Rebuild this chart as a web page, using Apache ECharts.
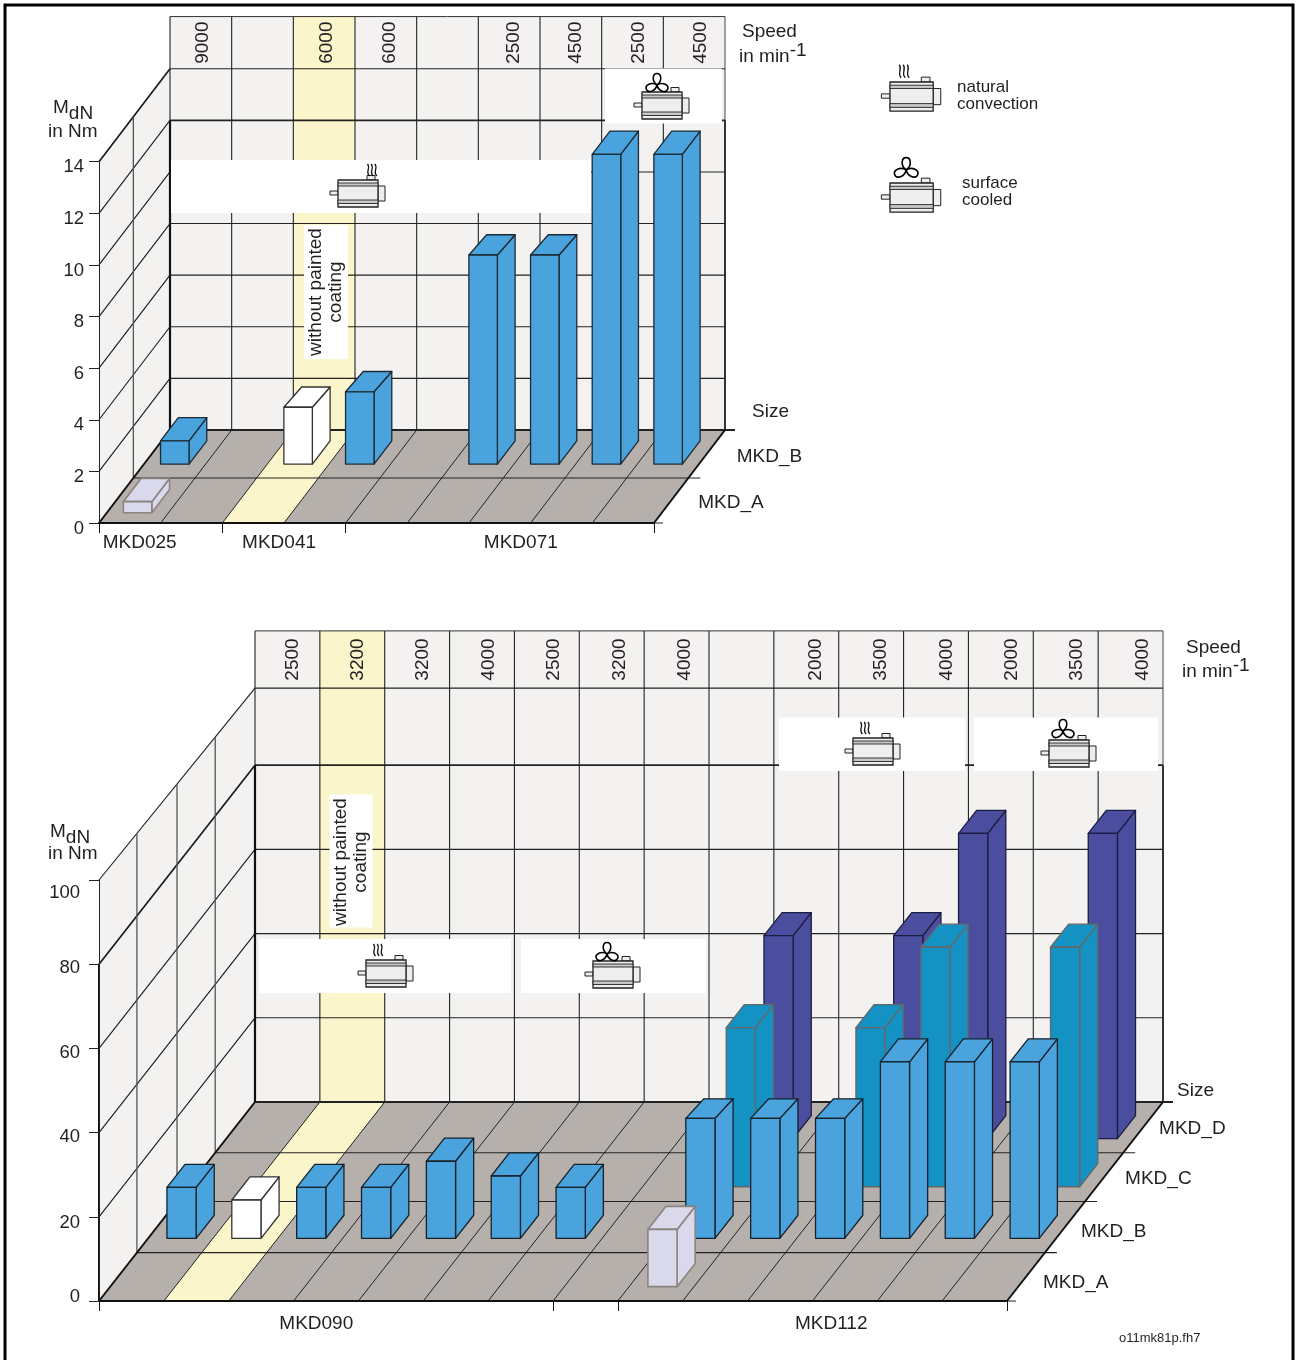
<!DOCTYPE html>
<html><head><meta charset="utf-8">
<style>html,body{margin:0;padding:0;background:#fff}#c{width:1296px;height:1360px}</style>
<script src="https://cdn.jsdelivr.net/npm/echarts@6/dist/echarts.min.js"></script></head>
<body><div id="c"></div>
<script>
// ---------- data ----------
const topSpeeds = ['9000','','6000','6000','','2500','4500','2500','4500'];
const topGroups = ['MKD025','MKD041','MKD071'];
const topRows = ['MKD_A','MKD_B'];
const topA = [0.43,null,null,null,null,null,null,null,null];
const topB = [0.9,null,2.2,2.8,null,8.1,8.1,12,12];

const lowSpeeds = ['2500','3200','3200','4000','2500','3200','4000','','2000','3500','4000','2000','3500','4000'];
const lowGroups = ['MKD090','MKD112'];
const lowRows = ['MKD_A','MKD_B','MKD_C','MKD_D'];
const lowA = [null,null,null,null,null,null,null,null,13.6,null,null,null,null,null];
const lowB = [12.1,9.1,12.1,12.1,18.3,14.8,12.1,null,28.5,28.5,28.5,41.9,41.9,41.9];
const lowC = [null,null,null,null,null,null,null,null,37.8,null,37.8,56.9,null,56.9];
const lowD = [null,null,null,null,null,null,null,null,48.2,null,48.2,72.5,null,72.5];

// ---------- layout ----------
const FONT = '"Liberation Sans", Arial, sans-serif', INK = '#231f20';
const WALL = '#f3f2f1', FLOOR = '#b5b0ac', YEL = '#fbf5cc';
const cfgTop = {
  idx:0, cols:9, left:99, top:161.7, w:555, h:361.3, max:14, step:2, dx:71, dy:-93,
  backTop:14, headTop:16.02, thick:12, thickFront:0, thickDiag:14, hi:2, rowD:[0,.484,1], speeds:topSpeeds, rows:topRows,
  base:[.11,.634], bd:.25, off:.268, bw:.462, hs0:1.5, hsK:.65, rlx:28, rowShift:[[-1,-1],[2,0]],
  ticks:[0,2,4,9], groupAt:[.66,2.92,6.84], groups:topGroups,
  rowColors:['#d9d9eb','#4aa3dc'], rowStroke:['#8b8380','#1d2a33'], uncoated:2,
  sagCols:[2,3,5,6], sag:.116
};
const cfgLow = {
  idx:1, cols:14, left:99, top:880, w:908, h:421, max:100, step:20, dx:156, dy:-199,
  backTop:98.3, headTop:111.9, thick:80, thickFront:80, thickDiag:80, hi:1, rowD:[0,.243,.5,.745,1], speeds:lowSpeeds, rows:lowRows,
  base:[.072,.315,.574,.816], bd:.116, off:.29, bw:.45, hs0:5, hsK:.54, rlx:16, rowShift:[[1,3],[0,2],[5,-1],[0,-2]],
  ticks:[0,7,8,14], groupAt:[3.35,11.29], groups:lowGroups,
  rowColors:['#d9d9eb','#4aa3dc','#1492c4','#4b4d9e'], rowStroke:['#8b8380','#16222b','#666','#1b1c40'], uncoated:1,
  sagCols:[8,9,10], sag:.84, sagRow:1
};

// ---------- element helpers ----------
const ln = (a,b,w,c) => ({type:'line',silent:true,shape:{x1:a[0],y1:a[1],x2:b[0],y2:b[1]},style:{stroke:c||'#222',lineWidth:w||1}});
const poly = (pts,fill,stroke,w) => ({type:'polygon',silent:true,shape:{points:pts},style:{fill:fill,stroke:stroke||null,lineWidth:w||0,lineJoin:'round'}});
const rect = (x,y,w,h,fill,stroke,lw) => ({type:'rect',silent:true,shape:{x,y,width:w,height:h},style:{fill:fill,stroke:stroke||null,lineWidth:lw||0}});
const txt = (s,x,y,o) => Object.assign({type:'text',silent:true,x,y,style:Object.assign({text:s,font:'19px '+FONT,fill:INK,textAlign:'left',textVerticalAlign:'middle'},(o&&o.style)||{})},o&&o.rotation?{rotation:o.rotation}:{});
const rich = (s,x,y,r) => ({type:'text',silent:true,x,y,style:{text:s,font:'19px '+FONT,fill:INK,textAlign:'left',textVerticalAlign:'middle',rich:r}});
const richSub = {m:{font:'19px '+FONT,fill:INK,verticalAlign:'top'},s:{font:'19px '+FONT,fill:INK,verticalAlign:'bottom',padding:[6,0,0,0]}};
const richSup = {m:{font:'19px '+FONT,fill:INK,verticalAlign:'bottom'},s:{font:'19px '+FONT,fill:INK,verticalAlign:'top',padding:[0,0,6,0]}};

function lobePath(cx,cy,deg,k){
  const a=deg*Math.PI/180, c=Math.cos(a), s=Math.sin(a);
  const P=(x,y)=>{x*=k;y*=k;return (cx+x*c-y*s).toFixed(1)+' '+(cy+x*s+y*c).toFixed(1);};
  return 'M'+P(0,0)+'C'+P(-5.5,-4)+' '+P(-4.5,-11.5)+' '+P(0,-11.5)+'C'+P(4.5,-11.5)+' '+P(5.5,-4)+' '+P(0,0)+'Z';
}
function motor(x,y,k,kind,heatX,fanX,fanY){
  const e=[], S=v=>v*k, st='#222';
  e.push(rect(x+S(-8),y+S(11),S(8),S(4),'#eee',st,1));
  e.push(rect(x+S(40),y+S(6),S(7),S(15),'#eee',st,1));
  e.push(rect(x+S(29),y+S(-4.5),S(8),S(4.5),'#eee',st,1));
  e.push(rect(x,y,S(40),S(27),'#eee',st,1.3));
  e.push(rect(x,y+S(3),S(40),S(3),'#c8c8c8',st,.9));
  e.push(rect(x,y+S(20),S(40),S(3.5),'#c8c8c8',st,.9));
  if(kind==='heat'){
    for(let i=0;i<3;i++){
      const a=x+S(heatX+i*3.7), t=y-S(16), b=y-S(4);
      e.push({type:'path',silent:true,shape:{pathData:`M${a+1.5} ${b}C${a-3} ${b-4} ${a+3} ${t+4} ${a-.5} ${t}`},style:{fill:null,stroke:'#111',lineWidth:1.3}});
    }
  } else {
    [0,112,248].forEach(d=>e.push({type:'path',silent:true,shape:{pathData:lobePath(x+S(fanX),y+S(fanY),d,k)},style:{fill:'#fff',stroke:'#000',lineWidth:1.6}}));
  }
  return e;
}

// ---------- walls, floor, decorations ----------
function wallItem(cfg, extras){
  return function(params, api){
    const P=(c,v,d)=>{const p=api.coord([c,v]);return [p[0]+d*cfg.dx,p[1]+d*cfg.dy];};
    const n=cfg.cols, m=cfg.max, e=[], bv=v=>v===m?cfg.backTop:v;
    // fills
    e.push(poly([P(0,0,1),P(n,0,1),P(n,cfg.headTop,1),P(0,cfg.headTop,1)],WALL));
    e.push(poly([P(cfg.hi,0,1),P(cfg.hi+1,0,1),P(cfg.hi+1,cfg.headTop,1),P(cfg.hi,cfg.headTop,1)],YEL));
    e.push(poly([P(0,0,0),P(0,0,1),P(0,cfg.backTop,1),P(0,m,0)],WALL));
    e.push(poly([P(0,0,0),P(n,0,0),P(n,0,1),P(0,0,1)],FLOOR));
    e.push(poly([P(cfg.hi,0,0),P(cfg.hi+1,0,0),P(cfg.hi+1,0,1),P(cfg.hi,0,1)],YEL));
    // back wall and floor grid
    for(let c=0;c<=n;c++){
      e.push(ln(P(c,0,1),P(c,cfg.headTop,1),1.1,c===n?'#555':'#222'));
      if(c>0&&c<n) e.push(ln(P(c,0,0),P(c,0,1),1,'#222'));
    }
    e.push(ln(P(0,cfg.headTop,1),P(n,cfg.headTop,1),1,'#333'));
    for(let v=cfg.step;v<=m;v+=cfg.step){
      e.push(ln(P(0,bv(v),1),P(n,bv(v),1),v===cfg.thick?1.7:1.1,'#222'));
      e.push(ln(P(0,v,0),P(0,bv(v),1),v===cfg.thickDiag?1.7:1.1,'#1a1a1a'));
    }
    // side wall verticals at the row limits
    cfg.rowD.slice(1,-1).forEach(d=>{
      const t=P(0,m,0), b=P(0,cfg.backTop,1);
      e.push(ln(P(0,0,d),[P(0,0,d)[0],t[1]+(b[1]-t[1])*d],1.3,'#555'));
    });
    // row limits on the floor, running out to the right
    cfg.rowD.forEach((d,i)=>{
      if(i===0) return;
      const a=P(0,0,d), b=P(n,0,d);
      e.push(ln(a,[b[0]+(i===cfg.rowD.length-1?10:12),b[1]],i===cfg.rowD.length-1?2:1.1,'#222'));
    });
    // heavy outlines
    e.push(ln(P(0,0,0),P(0,0,1),2,'#111'));
    e.push(ln(P(n,0,0),P(n,0,1),2,'#111'));
    if(cfg.thickFront) e.push(ln(P(0,0,0),P(0,cfg.thickFront,0),2,'#111'));
    e.push(ln(P(0,0,1),P(0,cfg.thick,1),2.2,'#111'));
    e.push(ln(P(n,0,1),P(n,cfg.thick,1),1.7,'#222'));
    const f=P(n,0,0); e.push(ln(f,[f[0]+9,f[1]],1,'#222'));
    // speeds in the header strip
    cfg.speeds.forEach((s,c)=>{
      if(!s) return;
      const a=P(c+.5,(cfg.headTop+cfg.backTop)/2,1);
      e.push(txt(s,a[0]+cfg.hs0+c*cfg.hsK,a[1],{rotation:Math.PI/2,style:{textAlign:'center'}}));
    });
    // size labels
    cfg.rows.forEach((r,i)=>{
      const d=(cfg.rowD[i]+cfg.rowD[i+1])/2, a=P(n,0,d);
      e.push(txt(r,a[0]+cfg.rlx+cfg.rowShift[i][0],a[1]+3+cfg.rowShift[i][1]));
    });
    return {type:'group',children:e.concat(extras)};
  };
}
const topExtras = [
  rect(171,160,420,53,'#fff'),
  rect(605,68.5,117,55,'#fff'),
  rect(304,225,44,134,'#fff'),
  txt('without painted\ncoating',326,292,{rotation:Math.PI/2,style:{textAlign:'center',lineHeight:20}}),
  ...motor(338,180,1,'heat',30),
  ...motor(642,92,1,'fan',0,15,-7),
  rich('{m|M}{s|dN}',53,111,richSub),
  txt('in Nm',48,132),
  txt('Speed',742,32),
  rich('{m|in min}{s|-1}',739,53.5,richSup),
  txt('Size',752,412),
  ...motor(890,82,1.08,'heat',9),
  ...motor(890,183,1.08,'fan',0,15,-12),
  txt('natural',957,87,{style:{font:'17px '+FONT}}),
  txt('convection',957,104,{style:{font:'17px '+FONT}}),
  txt('surface',962,183,{style:{font:'17px '+FONT}}),
  txt('cooled',962,200,{style:{font:'17px '+FONT}})
];
const lowExtras = [
  rect(259,939,252,54,'#fff'),
  rect(521,939,185,54,'#fff'),
  rect(779,717.5,186,53.5,'#fff'),
  rect(974,717.5,184,53.5,'#fff'),
  rect(329.5,794.5,43,133,'#fff'),
  txt('without painted\ncoating',351,862,{rotation:Math.PI/2,style:{textAlign:'center',lineHeight:20}}),
  ...motor(366,960,1,'heat',8),
  ...motor(593,961,1,'fan',0,14,-7),
  ...motor(853,738,1,'heat',8),
  ...motor(1049,740,1,'fan',0,14,-9),
  rich('{m|M}{s|dN}',50,835,richSub),
  txt('in Nm',48,854),
  txt('Speed',1186,648),
  rich('{m|in min}{s|-1}',1182,668.5,richSup),
  txt('Size',1177,1091),
  txt('o11mk81p.fh7',1119,1338,{style:{font:'13px '+FONT}})
];

// ---------- bars ----------
function barItem(cfg,row){
  return function(params,api){
    const c=api.value(0), v=api.value(1);
    const P=(x,y,d)=>{const p=api.coord([x,y]);return [p[0]+d*cfg.dx,p[1]+d*cfg.dy];};
    const d0=cfg.base[row], d1=d0+cfg.bd, x0=c+cfg.off, x1=x0+cfg.bw;
    let fill=cfg.rowColors[row], st=cfg.rowStroke[row];
    if(cfg.rowColors[row]==='#4aa3dc'&&c===cfg.uncoated){fill='#ffffff';st='#333';}
    const w=row===0?1.6:1.3;
    const sagRow=cfg.sagRow===undefined?row:cfg.sagRow;
    const vb=(row===sagRow&&cfg.sagCols.indexOf(c)>=0)?v-cfg.sag:v;
    return {type:'group',children:[
      poly([P(x1,0,d0),P(x1,0,d1),P(x1,vb,d1),P(x1,v,d0)],fill,st,w),
      poly([P(x0,v,d0),P(x1,v,d0),P(x1,vb,d1),P(x0,vb,d1)],fill,st,w),
      poly([P(x0,0,d0),P(x1,0,d0),P(x1,v,d0),P(x0,v,d0)],fill,st,w)
    ]};
  };
}
const pts = a => a.map((v,i)=>v===null?null:[i,v]).filter(Boolean);
function barSeries(cfg,name,arr,row){
  return {type:'custom',name:name+' '+cfg.idx,xAxisIndex:cfg.idx,yAxisIndex:cfg.idx,z:3+(cfg.rows.length-row),
    clip:false,silent:true,renderItem:barItem(cfg,row),data:pts(arr),encode:{x:0,y:1},animation:false};
}
function axes(cfg,labelMarginX,labelMarginY,ylabel){
  return {
    grid:{left:cfg.left,top:cfg.top,width:cfg.w,height:cfg.h,containLabel:false},
    x:{type:'value',gridIndex:cfg.idx,min:0,max:cfg.cols,z:10,splitLine:{show:false},
      axisLine:{show:true,onZero:false,lineStyle:{color:'#111',width:2}},
      axisTick:{show:true,customValues:cfg.ticks,length:10,lineStyle:{color:'#111',width:1}},
      axisLabel:{show:true,customValues:cfg.groupAt,margin:labelMarginX,color:INK,fontFamily:FONT,fontSize:19,
        formatter:v=>cfg.groups[cfg.groupAt.indexOf(v)]||''}},
    y:{type:'value',gridIndex:cfg.idx,min:0,max:cfg.max,interval:cfg.step,z:10,splitLine:{show:false},
      axisLine:{show:true,lineStyle:{color:'#222',width:1}},
      axisTick:{show:true,length:10,lineStyle:{color:'#222',width:1}},
      axisLabel:Object.assign({show:true,margin:labelMarginY,color:INK,fontFamily:FONT,fontSize:18.5},ylabel)}
  };
}
const a0=axes(cfgTop,10,15,{verticalAlign:'top',lineHeight:11});
const a1=axes(cfgLow,13,19,{customValues:[.9,18.5,38.9,58.9,79.1,96.9],formatter:v=>String(Math.round(v/20)*20)});
a1.y.axisTick.customValues=[0,20,40,60,80,100];
const chart=echarts.init(document.getElementById('c'),null,{renderer:'canvas'});
chart.setOption({
  animation:false,backgroundColor:'#fff',
  grid:[a0.grid,a1.grid],xAxis:[a0.x,a1.x],yAxis:[a0.y,a1.y],
  graphic:[{type:'polyline',silent:true,shape:{points:[[5,1360],[5,5],[1293,5],[1293,1360]]},style:{fill:null,stroke:'#000',lineWidth:3}}],
  series:[
    {type:'custom',name:'frame top',xAxisIndex:0,yAxisIndex:0,z:1,clip:false,silent:true,data:[[0,0]],renderItem:wallItem(cfgTop,topExtras)},
    {type:'custom',name:'frame low',xAxisIndex:1,yAxisIndex:1,z:1,clip:false,silent:true,data:[[0,0]],renderItem:wallItem(cfgLow,lowExtras)},
    barSeries(cfgTop,'MKD_B',topB,1),
    barSeries(cfgTop,'MKD_A',topA,0),
    barSeries(cfgLow,'MKD_D',lowD,3),
    barSeries(cfgLow,'MKD_C',lowC,2),
    barSeries(cfgLow,'MKD_B',lowB,1),
    barSeries(cfgLow,'MKD_A',lowA,0)
  ]
});
</script></body></html>
